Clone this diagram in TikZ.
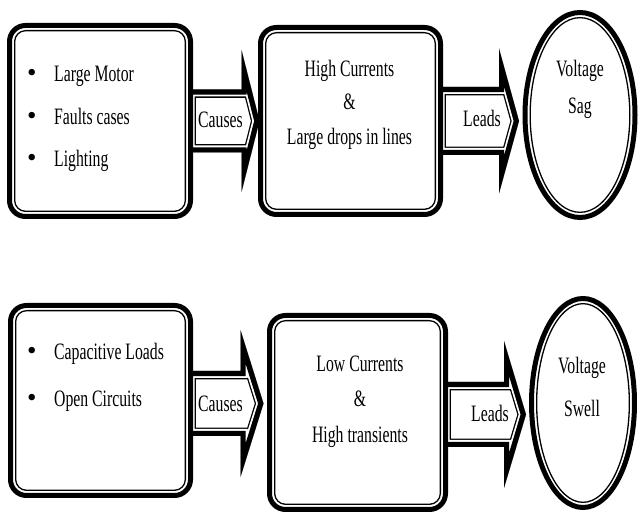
\documentclass[tikz,border=0pt]{standalone}
\usepackage{fontspec}
\setmainfont{Liberation Serif}[FakeStretch=0.67]
\newfontfamily\bulfont{Liberation Serif}
\usetikzlibrary{shapes.geometric,calc}
\pgfdeclarelayer{bg}
\pgfsetlayers{bg,main}
\tikzset{
 box/.style={draw, line width=5pt, rounded corners=16pt, fill=white, outer sep=0pt, inner sep=0pt, rectangle},
 oval/.style={draw, line width=5pt, ellipse, fill=white, outer sep=0pt, inner sep=0pt},
 inline/.style={draw, line width=1.3pt},
 txt/.style={font=\fontsize{23.5}{27}\selectfont, inner sep=0pt},
}
\newcommand\bul{\makebox[27pt][l]{\bulfont\fontsize{27}{27}\selectfont\raisebox{0pt}{•}}}
\def\apath#1{(#1-1)--(#1-2)--(#1-3)--(#1-4)--(#1-5)--(#1-6)--(#1-7)--cycle}
% #1 name, #2 start, #3 tip, #4 shaft half height, #5 head half height, #6 head length
\newcommand\mkarrow[6]{%
 \path let \p1=(#2), \p2=(#3) in
   coordinate (#1-1) at (\x1,\y1+#4)
   coordinate (#1-2) at (\x2-#6,\y1+#4)
   coordinate (#1-3) at (\x2-#6,\y1+#5)
   coordinate (#1-4) at (\x2,\y1)
   coordinate (#1-5) at (\x2-#6,\y1-#5)
   coordinate (#1-6) at (\x2-#6,\y1-#4)
   coordinate (#1-7) at (\x1,\y1-#4);
 \begin{scope}
  \clip \apath{#1};
  \fill[white] \apath{#1};
  \draw[line width=16.6pt, miter limit=20] \apath{#1};
  \draw[white, line width=14pt, miter limit=20] \apath{#1};
  \draw[line width=10.4pt, miter limit=20] \apath{#1};
 \end{scope}}
\begin{document}
\begin{tikzpicture}[x=1pt,y=1pt]
\useasboundingbox (0,0) rectangle (638,513);
% boxes and ovals
\node[box, minimum width=181pt, minimum height=191pt] (b1) at (100,392) {};
\node[box, minimum width=180pt, minimum height=187pt] (b2) at (350.5,392) {};
\node[oval, minimum width=110pt, minimum height=205pt] (e1) at (580,398) {};
\node[box, minimum width=180pt, minimum height=190pt] (b3) at (100.5,112.5) {};
\node[box, minimum width=176pt, minimum height=194pt] (b4) at (357.5,100.5) {};
\node[oval, minimum width=103pt, minimum height=209pt] (e2) at (583,110) {};
% inner thin outlines
\foreach \b in {b1,b2,b3,b4}
  \draw[inline, rounded corners=11pt] ([shift={(5.15pt,5.15pt)}]\b.south west) rectangle ([shift={(-5.15pt,-5.15pt)}]\b.north east);
\draw[inline] (e1.center) ellipse [x radius=49.85pt, y radius=97.35pt];
\draw[inline] (e2.center) ellipse [x radius=46.35pt, y radius=99.35pt];
% block arrows
\begin{pgfonlayer}{bg}
\mkarrow{a1}{[xshift=-3pt]b1.east}{[xshift=-1pt]b2.west}{31.5pt}{71pt}{18pt}
\mkarrow{a2}{[xshift=-3pt]b2.east}{[xshift=-6pt]e1.west}{34pt}{72.5pt}{20pt}
\mkarrow{a3}{[xshift=-3pt,yshift=-3pt]b3.east}{[xshift=-6pt]b4.west}{32.5pt}{73.5pt}{23pt}
\mkarrow{a4}{[xshift=-3pt,yshift=-2pt]b4.east}{[xshift=-5.5pt]e2.west}{32.5pt}{73.5pt}{22pt}
\end{pgfonlayer}
% texts
\node[txt, anchor=base west] (t11) at (27,431.3) {\bul Large Motor};
\node[txt, anchor=base west] (t12) at (27,388) {\bul Faults cases};
\node[txt, anchor=base west] (t13) at (27,346.3) {\bul Lighting};
\node[txt, anchor=base] (t21) at (349.5,436) {High Currents};
\node[txt, anchor=base] (t22) at (349.5,403) {\&};
\node[txt, anchor=base] (t23) at (349.5,368) {Large drops in lines};
\node[txt, anchor=base] (t31) at (580,436.3) {Voltage};
\node[txt, anchor=base] (t32) at (580,399) {Sag};
\node[txt, anchor=base west] (c1) at (198,385) {Causes};
\node[txt, anchor=base west] (l1) at (463,386) {Leads};
\node[txt, anchor=base west] (t41) at (27,153) {\bul Capacitive Loads};
\node[txt, anchor=base west] (t42) at (27,106.3) {\bul Open Circuits};
\node[txt, anchor=base] (t51) at (360,141) {Low Currents};
\node[txt, anchor=base] (t52) at (360,106) {\&};
\node[txt, anchor=base] (t53) at (360,70) {High transients};
\node[txt, anchor=base] (t61) at (582,139.7) {Voltage};
\node[txt, anchor=base] (t62) at (582,96.3) {Swell};
\node[txt, anchor=base west] (c2) at (198,101) {Causes};
\node[txt, anchor=base west] (l2) at (471,91) {Leads};
\end{tikzpicture}
\end{document}
